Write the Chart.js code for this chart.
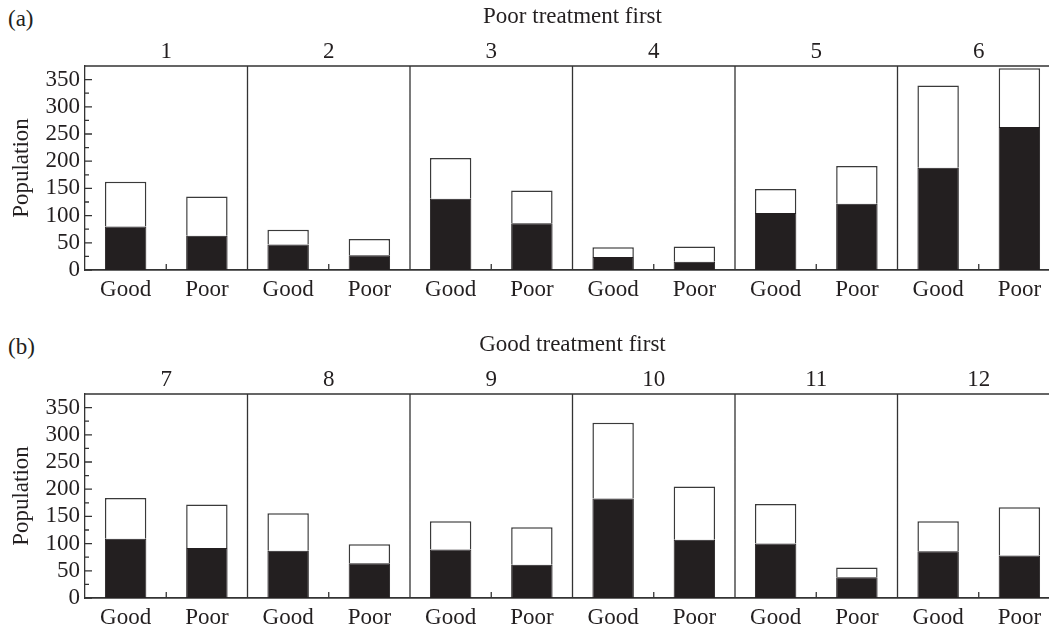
<!DOCTYPE html>
<html>
<head>
<meta charset="utf-8">
<script src="https://cdn.jsdelivr.net/npm/chart.js@4.4.0/dist/chart.umd.min.js"></script>
<style>
  html, body { margin: 0; padding: 0; background: #fff; overflow: hidden; width: 1049px; height: 628px; }
  .panel { position: absolute; left: 0; }
  .tag { position: absolute; left: 8px; font: 23px 'Liberation Serif', serif; color: #231f20; }
</style>
</head>
<body>
<div class="tag" style="top:6px">(a)</div>
<div class="tag" style="top:334px">(b)</div>
<canvas id="chartA" class="panel" style="top:0" width="1064" height="304"></canvas>
<canvas id="chartB" class="panel" style="top:328px" width="1064" height="300"></canvas>
<script>
const barLabels = ['Good', 'Poor', 'Good', 'Poor', 'Good', 'Poor', 'Good', 'Poor', 'Good', 'Poor', 'Good', 'Poor'];
const groupsA = ['1', '2', '3', '4', '5', '6'];
const groupsB = ['7', '8', '9', '10', '11', '12'];

// total population (bar height) and the black part
const totalA = [162, 135, 74, 57, 206, 146, 42, 43, 149, 191, 339, 371];
const blackA = [80, 63, 47, 27, 131, 86, 24, 15, 105, 122, 188, 263];
const totalB = [184, 172, 156, 99, 141, 130, 322, 205, 173, 56, 141, 167];
const blackB = [109, 92, 87, 64, 89, 61, 183, 107, 100, 38, 86, 78];

const ink = '#231f20';
Chart.defaults.font.family = "'Liberation Serif', serif";
Chart.defaults.font.size = 23;
Chart.defaults.color = ink;

// top edge, subject separators and inward tick marks
const framePlugin = {
    id: 'frame',
    afterDatasetsDraw(chart) {
        const { ctx, chartArea: area, scales: { x, y } } = chart;
        ctx.save();
        ctx.strokeStyle = '#333';
        ctx.lineWidth = 1.3;
        ctx.beginPath();
        ctx.moveTo(area.left, area.top);
        ctx.lineTo(area.right, area.top);
        for (let i = 1; i < 6; i++) {
            const px = x.getPixelForValue(2 * i - 0.5);
            ctx.moveTo(px, area.top);
            ctx.lineTo(px, area.bottom);
        }
        for (let i = 0; i < 6; i++) {
            const px = x.getPixelForValue(2 * i + 0.5);
            ctx.moveTo(px, area.bottom);
            ctx.lineTo(px, area.bottom - 6);
        }
        y.ticks.forEach(t => {
            const py = y.getPixelForValue(t.value);
            const len = t.value % 50 === 0 ? 7 : 4;
            ctx.moveTo(area.left, py);
            ctx.lineTo(area.left + len, py);
        });
        ctx.stroke();
        ctx.restore();
    }
};

function makeChart(id, groups, heading, totals, black, bottomHeight) {
    const white = totals.map((t, i) => t - black[i]);
    return new Chart(document.getElementById(id), {
        type: 'bar',
        data: {
            labels: barLabels,
            datasets: [
                { data: black, xAxisID: 'x', backgroundColor: ink, borderColor: ink, borderWidth: 1,
                  categoryPercentage: 1, barPercentage: 0.51 },
                { data: white, xAxisID: 'x', backgroundColor: '#fff', borderColor: '#3a3a3a', borderWidth: 1.5,
                  categoryPercentage: 1, barPercentage: 0.51 }
            ]
        },
        options: {
            responsive: false,
            animation: false,
            layout: { padding: { left: 0, right: 4, top: 0, bottom: 0 } },
            plugins: { legend: { display: false }, tooltip: { enabled: false } },
            scales: {
                x: {
                    stacked: true,
                    grid: { display: false, drawTicks: false },
                    border: { color: '#333', width: 1.8 },
                    ticks: { padding: 6 },
                    afterFit: s => { s.height = bottomHeight; }
                },
                x2: {
                    axis: 'x',
                    type: 'category',
                    position: 'top',
                    labels: groups,
                    offset: true,
                    grid: { display: false, drawTicks: false },
                    border: { display: false },
                    ticks: { padding: 0 },
                    title: { display: true, text: heading, padding: { top: 3, bottom: 0 } },
                    afterFit: s => { s.height = 66; }
                },
                y: {
                    stacked: true,
                    min: 0,
                    max: 375,
                    grid: { display: false, drawTicks: false },
                    border: { color: '#333', width: 1.3 },
                    ticks: {
                        stepSize: 25,
                        autoSkip: false,
                        padding: 5,
                        callback: v => (v % 50 === 0 && v <= 350 ? v : '')
                    },
                    title: { display: true, text: 'Population', padding: { top: 8, bottom: 0 } },
                    afterFit: s => { s.width = 85; }
                }
            }
        },
        plugins: [framePlugin]
    });
}

makeChart('chartA', groupsA, 'Poor treatment first', totalA, blackA, 34);
makeChart('chartB', groupsB, 'Good treatment first', totalB, blackB, 30);
</script>
</body>
</html>
